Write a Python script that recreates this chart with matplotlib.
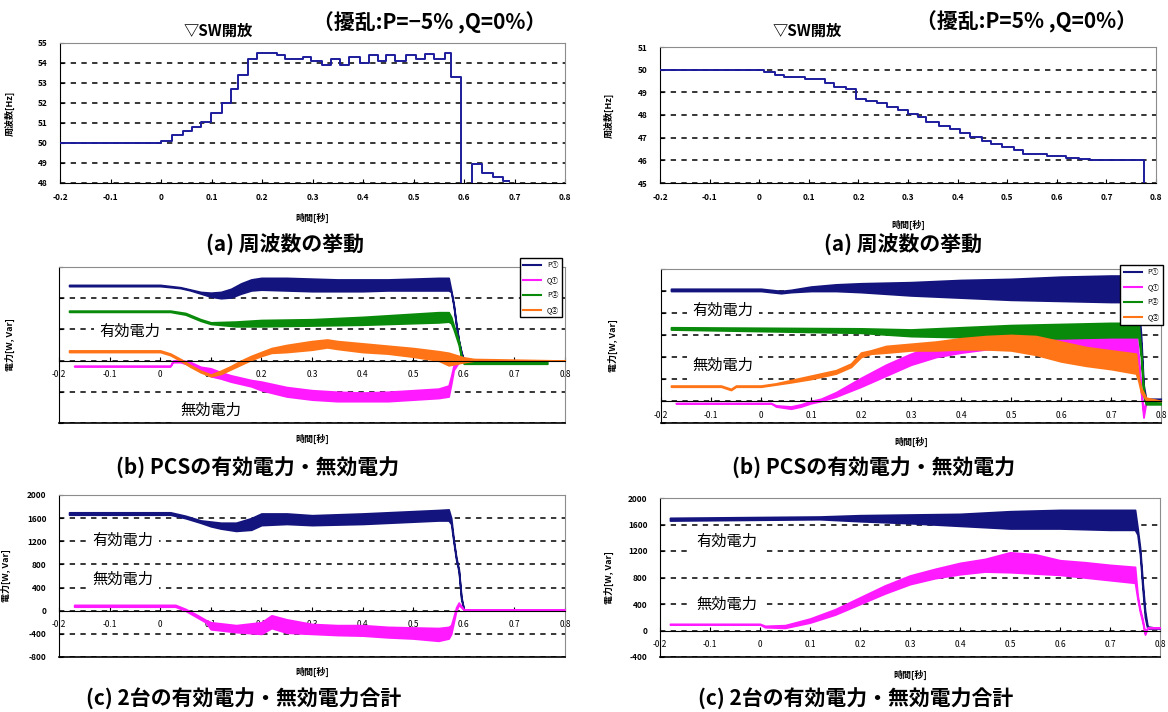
import matplotlib
matplotlib.use("Agg")
import matplotlib.pyplot as plt

plt.rcParams['font.family'] = ['Noto Sans CJK JP', 'DejaVu Sans']

W, H = 1168, 712

# ---------------- data ----------------
x_ticks = [-0.2, -0.1, 0, 0.1, 0.2, 0.3, 0.4, 0.5, 0.6, 0.7, 0.8]

# (a) frequency, left case (P=-5%)
freq_l_t = [-0.2, 0.0, 0.022, 0.044, 0.062, 0.080, 0.099, 0.120, 0.139, 0.153, 0.172,
            0.190, 0.230, 0.245, 0.281, 0.298, 0.318, 0.336, 0.354, 0.372, 0.394,
            0.412, 0.429, 0.445, 0.464, 0.485, 0.504, 0.522, 0.540, 0.562, 0.575,
            0.595, 0.615, 0.635, 0.657, 0.677, 0.69]
freq_l_v = [50.0, 50.08, 50.4, 50.6, 50.8, 51.07, 51.5, 52.0, 52.7, 53.4, 54.2,
            54.5, 54.4, 54.2, 54.3, 54.1, 53.9, 54.2, 53.9, 54.3, 54.0,
            54.4, 54.1, 54.4, 54.1, 54.4, 54.2, 54.45, 54.2, 54.5, 53.3,
            47.9, 48.95, 48.5, 48.3, 48.1, 48.1]

# (a) frequency, right case (P=5%)
freq_r_t = [-0.2, 0.009, 0.032, 0.050, 0.092, 0.133, 0.150, 0.174, 0.195, 0.216,
            0.238, 0.257, 0.280, 0.301, 0.321, 0.336, 0.362, 0.385, 0.404, 0.426,
            0.449, 0.468, 0.490, 0.513, 0.532, 0.580, 0.618, 0.644, 0.667, 0.776, 0.8]
freq_r_v = [50.0, 49.9, 49.78, 49.69, 49.6, 49.42, 49.23, 49.13, 48.69, 48.62,
            48.51, 48.35, 48.22, 48.03, 47.92, 47.67, 47.5, 47.38, 47.19, 47.04,
            46.87, 46.72, 46.57, 46.46, 46.28, 46.2, 46.1, 46.06, 46.0, 44.8, 44.8]

# (b) PCS power, left case: times, lower / upper envelope of the oscillation
bl_pg_t = [-0.18, 0.0, 0.04, 0.06, 0.08, 0.10, 0.12, 0.14, 0.16, 0.18, 0.20, 0.25,
           0.30, 0.35, 0.40, 0.45, 0.50, 0.55, 0.57, 0.575, 0.58, 0.585, 0.59, 0.595, 0.60]
bl_pg_lo = [955, 955, 930, 900, 860, 820, 800, 810, 860, 900, 910, 900,
            890, 890, 890, 900, 900, 900, 900, 880, 700, 450, 250, 100, 0]
bl_pg_hi = [970, 970, 940, 910, 880, 870, 880, 920, 990, 1040, 1060, 1060,
            1050, 1040, 1040, 1040, 1050, 1060, 1060, 900, 720, 470, 260, 110, 10]

bl_pl_t = [-0.18, 0.02, 0.05, 0.08, 0.10, 0.15, 0.20, 0.30, 0.40, 0.50, 0.55, 0.57,
           0.575, 0.58, 0.59, 0.595, 0.60, 0.765]
bl_pl_lo = [625, 625, 590, 510, 470, 440, 440, 450, 460, 480, 490, 500,
            480, 400, 200, 40, -40, -40]
bl_pl_hi = [640, 640, 610, 530, 490, 500, 520, 530, 560, 600, 620, 620,
            560, 450, 250, 60, -20, -20]

bl_ql_t = [-0.18, 0.0, 0.02, 0.04, 0.06, 0.08, 0.10, 0.12, 0.14, 0.16, 0.18, 0.20,
           0.22, 0.25, 0.30, 0.33, 0.35, 0.40, 0.45, 0.50, 0.55, 0.57, 0.60, 0.62, 0.80]
bl_ql_lo = [110, 110, 70, 0, -80, -150, -200, -170, -110, -50, 10, 60,
            100, 110, 140, 170, 150, 110, 90, 50, 0, -60, -20, 0, 0]
bl_ql_hi = [130, 130, 90, 20, -60, -130, -180, -130, -70, 0, 60, 110,
            160, 200, 250, 270, 250, 220, 190, 160, 120, 100, 40, 20, 0]

bl_qg_t = [-0.17, 0.02, 0.025, 0.04, 0.06, 0.08, 0.10, 0.12, 0.14, 0.16, 0.18, 0.20,
           0.25, 0.30, 0.35, 0.40, 0.45, 0.50, 0.55, 0.57, 0.575, 0.58, 0.59, 0.61]
bl_qg_lo = [-70, -70, -20, -20, -60, -120, -200, -230, -270, -300, -330, -380,
            -460, -500, -520, -520, -520, -500, -480, -460, -300, -120, -20, 0]
bl_qg_hi = [-70, -70, 0, 10, -20, -80, -100, -150, -190, -220, -250, -270,
            -340, -380, -400, -410, -400, -380, -360, -320, -200, -60, 20, 0]

# (b) PCS power, right case
br_pg_t = [-0.18, 0.0, 0.04, 0.06, 0.10, 0.15, 0.20, 0.30, 0.40, 0.50, 0.60, 0.70,
           0.75, 0.755, 0.76, 0.765, 0.77, 0.80]
br_pg_lo = [1000, 1000, 980, 990, 1000, 1000, 990, 960, 940, 920, 910, 900,
            900, 800, 500, 100, 0, 0]
br_pg_hi = [1020, 1020, 1000, 1010, 1040, 1060, 1070, 1080, 1100, 1110, 1130, 1140,
            1140, 900, 600, 150, 20, 20]

br_pl_t = [-0.18, 0.20, 0.30, 0.40, 0.50, 0.60, 0.70, 0.755, 0.76, 0.765, 0.77, 0.80]
br_pl_lo = [650, 620, 590, 580, 570, 570, 580, 580, 400, 50, -30, -30]
br_pl_hi = [670, 660, 650, 670, 690, 700, 710, 710, 450, 100, -10, -10]

br_ql_t = [-0.18, -0.08, -0.06, -0.05, 0.0, 0.03, 0.06, 0.10, 0.15, 0.18, 0.20, 0.22,
           0.25, 0.30, 0.35, 0.40, 0.45, 0.50, 0.55, 0.60, 0.65, 0.70, 0.75, 0.755,
           0.76, 0.77, 0.80]
br_ql_lo = [130, 130, 100, 130, 130, 150, 170, 200, 250, 310, 400, 430,
            440, 460, 460, 470, 470, 460, 420, 360, 320, 290, 250, 180,
            80, 10, 0]
br_ql_hi = [140, 140, 110, 140, 140, 160, 190, 230, 280, 340, 440, 460,
            500, 520, 540, 570, 590, 600, 590, 540, 490, 460, 430, 220,
            120, 30, 0]

br_qg_t = [-0.17, 0.02, 0.03, 0.06, 0.08, 0.10, 0.12, 0.15, 0.20, 0.25, 0.30, 0.35,
           0.40, 0.45, 0.50, 0.55, 0.60, 0.65, 0.70, 0.75, 0.755, 0.76, 0.765, 0.77, 0.78]
br_qg_lo = [-20, -20, -50, -70, -50, -20, 0, 40, 130, 230, 330, 400,
            440, 470, 480, 470, 470, 450, 430, 420, 350, 80, -150, -10, 0]
br_qg_hi = [-20, -20, -40, -50, -30, 0, 20, 80, 210, 330, 430, 510,
            570, 620, 640, 650, 650, 650, 640, 640, 420, 120, -100, 10, 0]

# (c) sum of two units, left case
cl_p_t = [-0.18, 0.02, 0.05, 0.08, 0.10, 0.12, 0.15, 0.18, 0.20, 0.25, 0.30, 0.40,
          0.50, 0.55, 0.57, 0.575, 0.58, 0.585, 0.59, 0.595, 0.60, 0.80]
cl_p_lo = [1660, 1660, 1600, 1520, 1460, 1420, 1380, 1400, 1480, 1500, 1480, 1500,
           1540, 1560, 1560, 1500, 1180, 880, 680, 200, 20, 20]
cl_p_hi = [1700, 1700, 1640, 1560, 1540, 1520, 1520, 1600, 1680, 1680, 1650, 1680,
           1720, 1740, 1750, 1600, 1220, 920, 720, 240, 20, 20]

cl_q_t = [-0.17, 0.03, 0.05, 0.07, 0.09, 0.10, 0.15, 0.20, 0.22, 0.25, 0.30, 0.35,
          0.40, 0.45, 0.50, 0.55, 0.57, 0.575, 0.58, 0.585, 0.59, 0.60, 0.80]
cl_q_lo = [70, 70, 0, -100, -200, -320, -370, -400, -300, -380, -400, -420,
           -430, -460, -480, -520, -480, -400, -200, 0, 100, 20, 20]
cl_q_hi = [100, 100, 30, -60, -160, -200, -250, -200, -80, -150, -230, -250,
           -250, -280, -290, -300, -280, -250, -100, 60, 140, 20, 20]

# (c) sum of two units, right case
cr_p_t = [-0.18, 0.12, 0.20, 0.30, 0.40, 0.50, 0.60, 0.70, 0.75, 0.755, 0.76, 0.765,
          0.77, 0.775, 0.80]
cr_p_lo = [1660, 1680, 1650, 1620, 1580, 1540, 1540, 1520, 1520, 1450, 1150, 650,
           200, 30, 30]
cr_p_hi = [1700, 1720, 1740, 1750, 1760, 1800, 1820, 1820, 1820, 1550, 1250, 750,
           300, 60, 30]

cr_q_t = [-0.18, 0.0, 0.01, 0.05, 0.10, 0.15, 0.20, 0.25, 0.30, 0.35, 0.40, 0.45,
          0.50, 0.55, 0.60, 0.65, 0.70, 0.75, 0.755, 0.76, 0.765, 0.77, 0.775, 0.80]
cr_q_lo = [90, 90, 50, 40, 120, 240, 400, 560, 700, 790, 850, 890,
           880, 860, 840, 800, 760, 720, 480, 280, 130, -60, 40, 40]
cr_q_hi = [100, 100, 70, 80, 180, 320, 500, 680, 830, 930, 1020, 1080,
           1180, 1150, 1060, 1030, 990, 960, 540, 320, 170, -40, 40, 40]

legend_labels = ['P①', 'Q①', 'P②', 'Q②']
C_P1, C_Q1, C_P2, C_Q2 = '#14147e', '#ff1aff', '#0a8a0a', '#ff7416'


# ---------------- helpers ----------------
def px_box(l, t, r, b):
    return [l / W, 1 - b / H, (r - l) / W, (b - t) / H]


def ftext(fig, x, y, s, **kw):
    fig.text(x / W, 1 - y / H, s, ha='center', va='center', **kw)


def band(ax, t, lo, hi, color, label=None):
    ax.fill_between(t, lo, hi, facecolor=color, edgecolor=color, lw=1.3, zorder=3)
    if label:
        ax.plot([], [], color=color, lw=1.5, label=label)


def base_axes(fig, box, ylim, yticks, ylabel, ylab_x, xlab_y, zero_axis,
              show_ylabels=True):
    ax = fig.add_axes(px_box(*box))
    l, t, r, b = box
    ax.set_xlim(-0.2, 0.8)
    ax.set_ylim(*ylim)
    ax.set_xticks(x_ticks)
    ax.set_xticklabels([f'{v:g}' for v in x_ticks], fontweight='bold')
    ax.set_yticks(yticks)
    if show_ylabels:
        ax.set_yticklabels([f'{v:g}' for v in yticks], fontweight='bold')
    else:
        ax.set_yticklabels([])
    ax.tick_params(labelsize=6, length=3, direction='in', width=0.8)
    ax.tick_params(axis='x', pad=7)
    ax.tick_params(axis='y', pad=9)
    ax.grid(axis='y', ls=(0, (3.5, 3.5)), color='k', lw=1.1, zorder=0)
    ax.set_axisbelow(True)
    for s in ['top', 'right']:
        ax.spines[s].set_color('0.55')
    ax.spines['left'].set_color('k')
    ax.spines['bottom'].set_color('k')
    if zero_axis:
        ax.spines['bottom'].set_position(('data', 0))
        ax.spines['bottom'].set_zorder(4)
        ax.plot([0, 1], [0, 0], transform=ax.transAxes, color='k', lw=1.2,
                clip_on=False, zorder=5)
    ax.set_ylabel(ylabel, fontsize=6.5, fontweight='bold')
    ax.yaxis.set_label_coords((ylab_x - l) / (r - l), 0.5)
    ax.set_xlabel('時間[秒]', fontsize=6.5, fontweight='bold')
    ax.xaxis.set_label_coords(0.5, -(xlab_y - b) / (b - t))
    return ax


def label(ax, x, y, s):
    ax.text(x, y, s, fontsize=11, ha='center', va='center', zorder=2,
            bbox=dict(fc='white', ec='none', pad=4))


fig = plt.figure(figsize=(W / 100, H / 100), dpi=100)

# ---------- (a) frequency ----------
ax = base_axes(fig, (60, 43, 565, 183), (48, 55), list(range(48, 56)),
               '周波数[Hz]', 15, 213, False)
ax.step(freq_l_t, freq_l_v, where='post', color='#1c1c9c', lw=1.4, zorder=3)

ax = base_axes(fig, (660, 47, 1156, 183), (45, 51), list(range(45, 52)),
               '周波数[Hz]', 614, 220, False)
ax.step(freq_r_t, freq_r_v, where='post', color='#1c1c9c', lw=1.4, zorder=3)

# ---------- (b) PCS P/Q ----------
ax = base_axes(fig, (59, 267, 565, 423), (-800, 1200),
               [-800, -400, 0, 400, 800, 1200], '電力[W, Var]', 15, 434, True,
               show_ylabels=False)
band(ax, bl_pg_t, bl_pg_lo, bl_pg_hi, C_P1, legend_labels[0])
band(ax, bl_qg_t, bl_qg_lo, bl_qg_hi, C_Q1, legend_labels[1])
band(ax, bl_pl_t, bl_pl_lo, bl_pl_hi, C_P2, legend_labels[2])
band(ax, bl_ql_t, bl_ql_lo, bl_ql_hi, C_Q2, legend_labels[3])
label(ax, -0.06, 380, '有効電力')
label(ax, 0.10, -640, '無効電力')
ax.legend(loc='upper right', bbox_to_anchor=(0.995, 1.06), fontsize=5,
          frameon=True, fancybox=False, edgecolor='k', framealpha=1,
          handlelength=2.6, borderpad=0.5, labelspacing=1.0,
          borderaxespad=0).set_zorder(10)

ax = base_axes(fig, (661, 269, 1161, 423), (-200, 1200),
               [-200, 0, 200, 400, 600, 800, 1000, 1200], '電力[W, Var]', 618, 437,
               True, show_ylabels=False)
band(ax, br_pg_t, br_pg_lo, br_pg_hi, C_P1, legend_labels[0])
band(ax, br_qg_t, br_qg_lo, br_qg_hi, C_Q1, legend_labels[1])
band(ax, br_pl_t, br_pl_lo, br_pl_hi, C_P2, legend_labels[2])
band(ax, br_ql_t, br_ql_lo, br_ql_hi, C_Q2, legend_labels[3])
label(ax, -0.077, 820, '有効電力')
label(ax, -0.077, 320, '無効電力')
ax.legend(loc='upper right', bbox_to_anchor=(1.004, 1.026), fontsize=5,
          frameon=True, fancybox=False, edgecolor='k', framealpha=1,
          handlelength=2.6, borderpad=0.5, labelspacing=1.0,
          borderaxespad=0).set_zorder(10)

# ---------- (c) totals ----------
ax = base_axes(fig, (59, 495, 565, 657), (-800, 2000), list(range(-800, 2001, 400)),
               '電力[W, Var]', 11, 667, True)
band(ax, cl_p_t, cl_p_lo, cl_p_hi, C_P1)
band(ax, cl_q_t, cl_q_lo, cl_q_hi, C_Q1)
label(ax, -0.073, 1220, '有効電力')
label(ax, -0.073, 540, '無効電力')

ax = base_axes(fig, (660, 498, 1160, 657), (-400, 2000), list(range(-400, 2001, 400)),
               '電力[W, Var]', 614, 670, True)
band(ax, cr_p_t, cr_p_lo, cr_p_hi, C_P1)
band(ax, cr_q_t, cr_q_lo, cr_q_hi, C_Q1)
label(ax, -0.066, 1340, '有効電力')
label(ax, -0.066, 400, '無効電力')

# ---------- titles and captions ----------
ftext(fig, 218, 31, '▽SW開放', fontsize=11, fontweight='bold')
ftext(fig, 430, 23, '（擾乱:P=−5% ,Q=0%）', fontsize=15, fontweight='bold')
ftext(fig, 807, 31, '▽SW開放', fontsize=11, fontweight='bold')
ftext(fig, 1026, 22, '（擾乱:P=5% ,Q=0%）', fontsize=15, fontweight='bold')

cap_kw = dict(fontsize=15, fontweight='bold')
ftext(fig, 285, 245, '(a) 周波数の挙動', **cap_kw)
ftext(fig, 903, 245, '(a) 周波数の挙動', **cap_kw)
ftext(fig, 258, 468, '(b) PCSの有効電力・無効電力', **cap_kw)
ftext(fig, 874, 468, '(b) PCSの有効電力・無効電力', **cap_kw)
ftext(fig, 244, 699, '(c) 2台の有効電力・無効電力合計', **cap_kw)
ftext(fig, 856, 699, '(c) 2台の有効電力・無効電力合計', **cap_kw)

fig.savefig('out.png', dpi=100)
